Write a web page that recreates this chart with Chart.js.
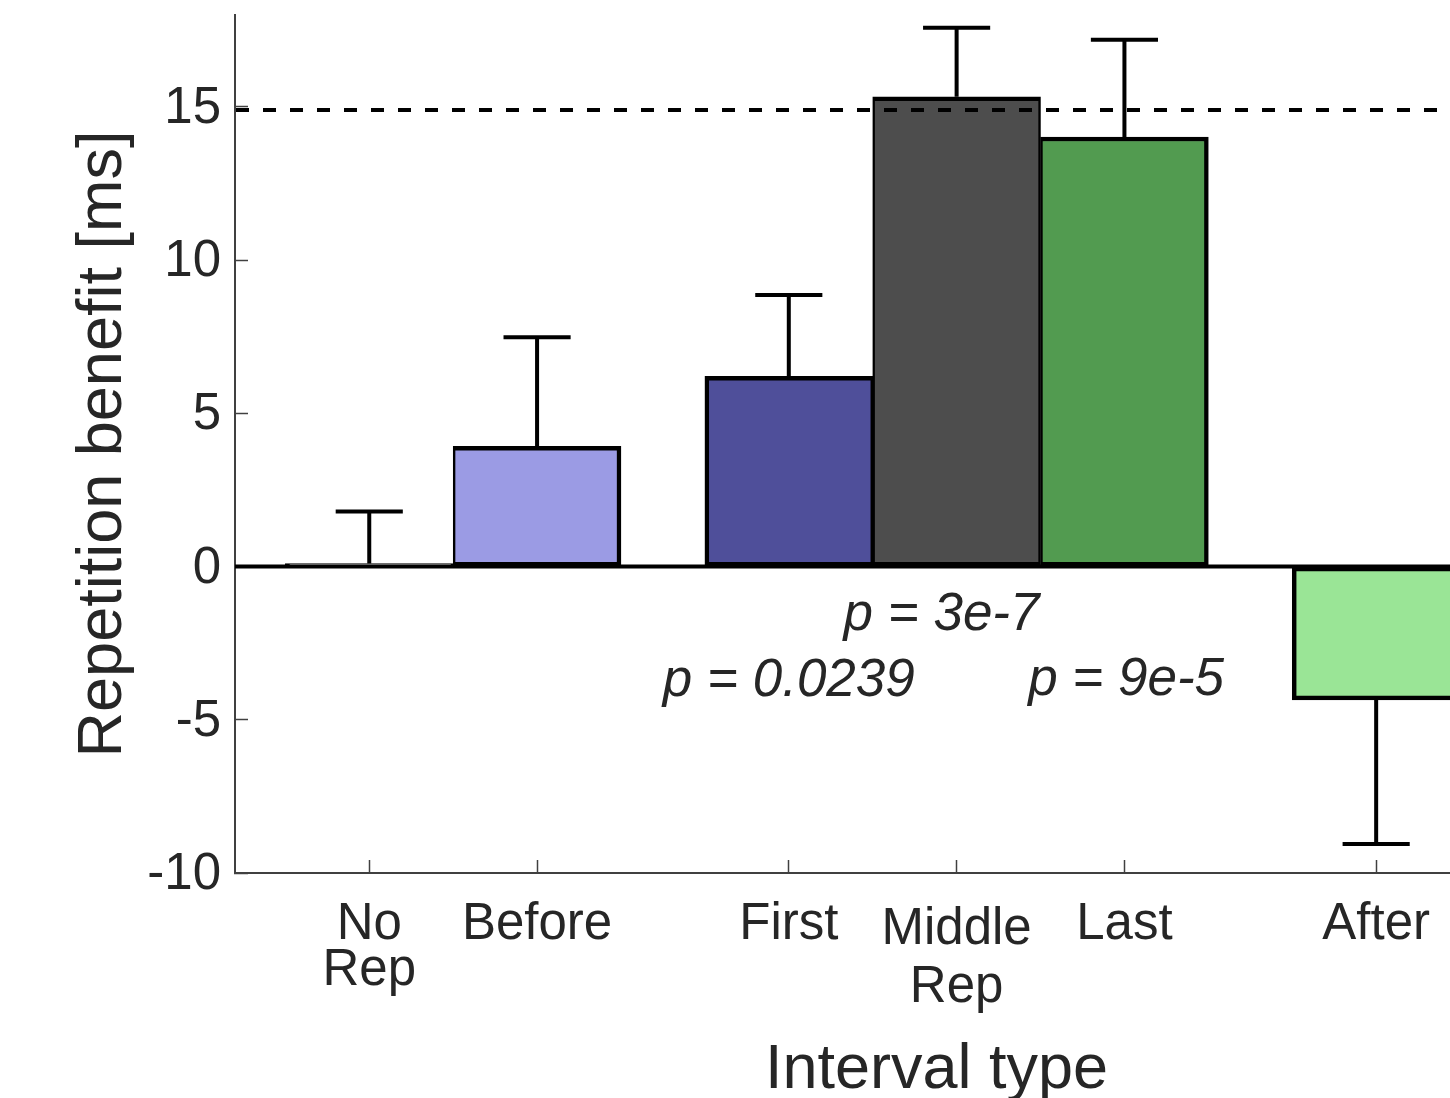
<!DOCTYPE html>
<html>
<head>
<meta charset="utf-8">
<script src="https://cdn.jsdelivr.net/npm/chart.js@4/dist/chart.umd.min.js"></script>
<style>
  html, body { margin: 0; padding: 0; background: #ffffff; }
  #wrap { width: 1450px; height: 1098px; position: relative; }
</style>
</head>
<body>
<div id="wrap"><canvas id="c"></canvas></div>
<script>
// ---------------- data ----------------
const categories = [["No", "Rep"], "Before", "First", ["Middle", "Rep"], "Last", "After"];
const positions  = [1, 2, 3.5, 4.5, 5.5, 7];
const benefit    = [0.1, 3.92, 6.21, 15.33, 14.02, -4.35];
const sem        = [1.7, 3.56, 2.65, 2.25, 3.17, 4.7];
const barColors  = ["#ffffff", "#9b9be4", "#4f4f9a", "#4d4d4d", "#529b50", "#9ae596"];
const yTicks     = [-10, -5, 0, 5, 10, 15];
const referenceLevel = 14.9;
const pTexts = ["p = 3e-7", "p = 0.0239", "p = 9e-5"];
const pX     = [4.41, 3.5, 5.51];
const pY     = [-2.06, -4.24, -4.18];
const yTitle = "Repetition benefit [ms]";
const xTitle = "Interval type";

// ---------------- style ----------------
const FONT = "'Liberation Sans', Arial, Helvetica, sans-serif";
const TXT = "#262626";
const AX = "#404040";
const tickLineHeights = [0.92, 0.92, 0.92, 1.13, 0.92, 0.92];

function hasNeighbor(i, d) {
  return positions.some(p => Math.abs(p - (positions[i] + d)) < 1e-9);
}
function noPad(s) {
  s.paddingTop = 0; s.paddingBottom = 0; s.paddingLeft = 0; s.paddingRight = 0;
}

const overlay = {
  id: "overlay",
  afterDatasetsDraw(chart) {
    const { ctx, chartArea: a, scales: { x, y } } = chart;
    ctx.save();
    ctx.beginPath();
    ctx.rect(a.left, a.top - 2, a.right - a.left, a.bottom - a.top + 4);
    ctx.clip();
    ctx.strokeStyle = "#000000";
    // zero baseline
    ctx.lineWidth = 4;
    const y0 = y.getPixelForValue(0);
    ctx.beginPath(); ctx.moveTo(a.left, y0); ctx.lineTo(a.right, y0); ctx.stroke();
    // dashed reference line
    ctx.lineWidth = 4;
    ctx.setLineDash([13, 14]);
    const yr = y.getPixelForValue(referenceLevel);
    ctx.beginPath(); ctx.moveTo(a.left + 1, yr); ctx.lineTo(a.right, yr); ctx.stroke();
    ctx.setLineDash([]);
    // one-sided error bars
    ctx.lineWidth = 4;
    positions.forEach((p, i) => {
      const px = x.getPixelForValue(p);
      const dir = benefit[i] >= 0 ? 1 : -1;
      const yb = y.getPixelForValue(benefit[i]);
      const ye = y.getPixelForValue(benefit[i] + dir * sem[i]);
      const half = x.getPixelForValue(p + 0.2) - px;
      ctx.beginPath();
      ctx.moveTo(px, yb); ctx.lineTo(px, ye);
      ctx.moveTo(px - half, ye); ctx.lineTo(px + half, ye);
      ctx.stroke();
    });
    ctx.restore();

    // p-value annotations
    ctx.save();
    ctx.fillStyle = TXT;
    ctx.font = "italic 53px " + FONT;
    ctx.textAlign = "center";
    ctx.textBaseline = "alphabetic";
    pTexts.forEach((t, i) => {
      ctx.fillText(t, x.getPixelForValue(pX[i]), y.getPixelForValue(pY[i]));
    });
    // x axis title
    ctx.font = "63px " + FONT;
    ctx.fillText(xTitle, x.getPixelForValue(4.38), chart.height - 10);
    ctx.restore();
  }
};

new Chart(document.getElementById("c"), {
  type: "bar",
  data: {
    datasets: [{
      data: positions.map((p, i) => ({ x: p, y: benefit[i] })),
      backgroundColor: barColors,
      borderColor: "#000000",
      borderWidth: ctx => ({
        top: 4.5, bottom: 4.5,
        left: hasNeighbor(ctx.dataIndex, -1) ? 2.5 : 4.5,
        right: hasNeighbor(ctx.dataIndex, 1) ? 2.5 : 4.5
      }),
      borderSkipped: false,
      categoryPercentage: 1,
      barPercentage: 1
    }]
  },
  options: {
    responsive: true,
    maintainAspectRatio: false,
    animation: false,
    devicePixelRatio: 1,
    layout: { padding: { top: 15, right: 0, bottom: 0, left: 0 } },
    plugins: { legend: { display: false }, tooltip: { enabled: false } },
    scales: {
      x: {
        type: "linear",
        min: 0.2,
        max: 7.44,
        offset: false,
        grid: { display: true, offset: false, drawOnChartArea: false, drawTicks: true, tickLength: -13, tickWidth: 1.5, tickColor: AX },
        border: { display: true, color: AX, width: 2 },
        afterBuildTicks: s => { s.ticks = positions.map(v => ({ value: v })); },
        afterFit: s => { s.height = 225; noPad(s); },
        ticks: {
          autoSkip: false, maxRotation: 0, minRotation: 0,
          padding: 41,
          color: TXT,
          font: ctx => ({ family: FONT, size: 51, lineHeight: tickLineHeights[ctx.index] || 0.92 }),
          callback: (v, i) => categories[i]
        }
      },
      y: {
        min: -10,
        max: 18,
        grid: { display: true, drawOnChartArea: false, drawTicks: true, tickLength: -13, tickWidth: 1.5, tickColor: AX },
        border: { display: true, color: AX, width: 2 },
        afterBuildTicks: s => { s.ticks = yTicks.map(v => ({ value: v })); },
        afterFit: s => { s.width = 235; noPad(s); },
        ticks: { padding: 27, color: TXT, labelOffset: 2, font: { family: FONT, size: 51 }, callback: v => String(v) },
        title: { display: true, text: yTitle, color: TXT, font: { family: FONT, size: 63, lineHeight: 1 }, padding: { top: 72, bottom: 0 } }
      }
    }
  },
  plugins: [overlay]
});
</script>
</body>
</html>
